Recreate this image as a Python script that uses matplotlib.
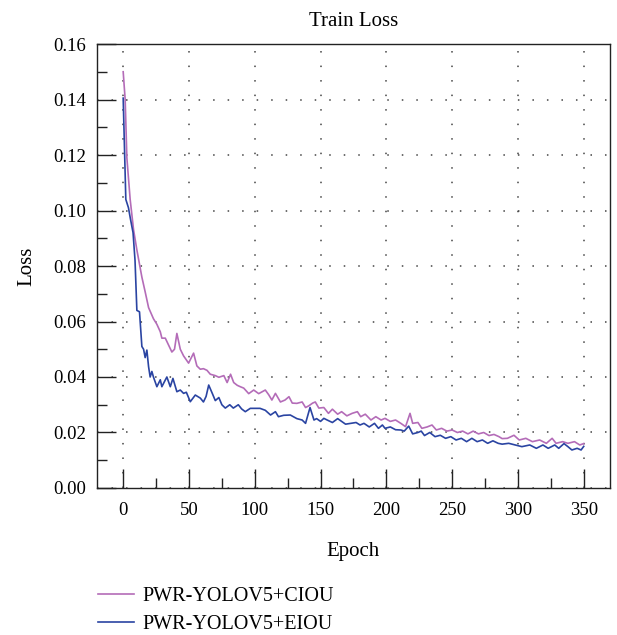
import matplotlib
matplotlib.use("Agg")
import matplotlib.pyplot as plt
from matplotlib.ticker import MultipleLocator, FormatStrFormatter

# values
ciou_epoch = [0, 1.5, 2.8, 5.3, 7.9, 10.4, 14.2, 16.7, 19.3, 23, 25.6, 28.2, 29.4, 32, 34.5,
              37, 39, 40.8, 43.4, 45.9, 49.7, 53.5, 56, 58.6, 61, 63.7, 66.2, 70, 72.7, 76.5,
              79, 81.6, 84, 86.7, 89, 91.6, 95.4, 99.2, 103, 108, 110.6, 113, 115.7, 119.5,
              123, 126, 128.5, 132, 136, 138.6, 141, 144, 146, 148.7, 152.5, 156, 159, 163,
              166, 170, 174, 178, 180.5, 184, 188.3, 192, 196, 199, 203, 207, 211, 214.6,
              218, 220, 224, 227, 231, 234.7, 238, 242, 246, 250, 254, 258, 262, 266, 270,
              274, 278, 281.8, 285.6, 288, 292, 297, 301, 306, 311, 316.5, 321.6, 326, 329,
              334, 338, 343, 347, 350]
ciou_loss = [0.150, 0.140, 0.119, 0.104, 0.093, 0.0858, 0.076, 0.0707, 0.065, 0.061, 0.059,
             0.0563, 0.054, 0.054, 0.0515, 0.049, 0.050, 0.0557, 0.050, 0.0476, 0.045, 0.0486,
             0.044, 0.0428, 0.043, 0.0424, 0.041, 0.0405, 0.0399, 0.0405, 0.038, 0.041, 0.038,
             0.037, 0.0365, 0.036, 0.034, 0.0353, 0.034, 0.0353, 0.0336, 0.0317, 0.0341, 0.031,
             0.0317, 0.0329, 0.0306, 0.0305, 0.031, 0.029, 0.0296, 0.0306, 0.031, 0.0288,
             0.029, 0.0269, 0.0284, 0.0266, 0.0275, 0.026, 0.0269, 0.0275, 0.0257, 0.0266,
             0.0245, 0.0257, 0.0245, 0.0251, 0.024, 0.0245, 0.0233, 0.0221, 0.0269, 0.0233,
             0.0236, 0.0215, 0.022, 0.0227, 0.0209, 0.0215, 0.0205, 0.0209, 0.020, 0.0205,
             0.0195, 0.0205, 0.0195, 0.020, 0.0189, 0.0193, 0.0185, 0.0178, 0.0179, 0.019,
             0.0173, 0.0179, 0.0167, 0.0173, 0.0161, 0.0179, 0.0161, 0.0167, 0.0161, 0.0167,
             0.0155, 0.0160]

eiou_epoch = [0, 2, 4, 5.5, 7.5, 9, 10.4, 12.4, 14.2, 15.5, 16.7, 18, 19.3, 20.5, 21.8, 23,
              25.6, 28.2, 29.4, 31, 33.2, 35.8, 37.8, 40.8, 43.4, 45.9, 48, 51, 54.8, 58.6,
              61, 63, 65, 67.8, 70, 72.7, 75, 77.6, 81, 83.7, 87.5, 90, 92.8, 96.6, 100, 104,
              108, 112, 115.7, 118, 122, 127, 132, 136, 138.6, 142, 145, 147, 150, 152.5,
              155, 159, 163, 166, 169, 173, 177, 180, 183, 187, 191, 194, 197, 199, 203, 207,
              211, 213.6, 217, 220, 224, 226.5, 229, 233, 237, 241, 245, 249, 253, 257, 261,
              265, 269, 273, 277, 281, 285, 288, 293, 298, 303, 309, 314, 319, 323, 328, 331,
              335, 338, 341, 345, 348, 350]
eiou_loss = [0.1405, 0.104, 0.101, 0.097, 0.092, 0.082, 0.064, 0.0635, 0.051, 0.050, 0.047,
             0.0497, 0.0437, 0.040, 0.042, 0.040, 0.0365, 0.039, 0.0365, 0.038, 0.040, 0.0365,
             0.0395, 0.0347, 0.0353, 0.0341, 0.0345, 0.0311, 0.0335, 0.0324, 0.031, 0.033,
             0.0371, 0.034, 0.0315, 0.0326, 0.030, 0.0288, 0.030, 0.0288, 0.030, 0.0285,
             0.0275, 0.0287, 0.0287, 0.0287, 0.028, 0.0263, 0.0275, 0.0257, 0.0262, 0.0263,
             0.025, 0.0245, 0.0233, 0.0290, 0.0245, 0.025, 0.024, 0.0251, 0.0245, 0.0236,
             0.025, 0.024, 0.023, 0.0233, 0.0236, 0.0227, 0.0233, 0.022, 0.0233, 0.0215,
             0.0227, 0.0215, 0.022, 0.021, 0.0209, 0.0205, 0.0223, 0.0195, 0.020, 0.0205,
             0.0189, 0.020, 0.0185, 0.019, 0.0179, 0.0185, 0.0173, 0.0179, 0.0167, 0.0179,
             0.0167, 0.0173, 0.0161, 0.0170, 0.0161, 0.0158, 0.0161, 0.0155, 0.0149, 0.0155,
             0.0143, 0.0155, 0.0143, 0.0155, 0.0143, 0.0160, 0.0149, 0.0137, 0.0143, 0.0137,
             0.0150]

labels = ["PWR-YOLOV5+CIOU", "PWR-YOLOV5+EIOU"]
colors = ["#b46cb8", "#2a44a2"]

plt.rcParams['font.family'] = ['Liberation Serif', 'DejaVu Serif']
plt.rcParams['font.size'] = 13.5

fig = plt.figure(figsize=(6.17, 6.35), dpi=100)
ax = fig.add_axes([0.157, 0.2315, 0.8317, 0.6992])

ax.plot(ciou_epoch, ciou_loss, color=colors[0], linewidth=1.2, label=labels[0])
ax.plot(eiou_epoch, eiou_loss, color=colors[1], linewidth=1.2, label=labels[1])

ax.set_xlim(-20, 370)
ax.set_ylim(0, 0.16)
ax.xaxis.set_major_locator(MultipleLocator(50))
ax.xaxis.set_minor_locator(MultipleLocator(25))
ax.yaxis.set_major_locator(MultipleLocator(0.02))
ax.yaxis.set_minor_locator(MultipleLocator(0.01))
ax.yaxis.set_major_formatter(FormatStrFormatter('%.2f'))

ax.tick_params(which='major', direction='in', length=13.5, width=1.0, color='#222222',
               labelsize=13.5, pad=8)
ax.tick_params(which='minor', direction='in', length=7, width=1.0, color='#222222')
ax.tick_params(axis='x', pad=10)
for s in ax.spines.values():
    s.set_linewidth(1.0)
    s.set_color('#222222')

ax.grid(True, which='major', linestyle=(0, (1, 8.5)), linewidth=1.1, color='#444444')

ax.set_title("Train Loss", fontsize=15, pad=13)
ax.set_xlabel("Epoch", fontsize=15, labelpad=17)
ax.set_ylabel("Loss", fontsize=15, labelpad=12)

handles, _ = ax.get_legend_handles_labels()
fig.legend(handles, labels, loc='upper left', bbox_to_anchor=(0.145, 0.088), frameon=False,
           handlelength=1.8, handletextpad=0.45, labelspacing=0.42, fontsize=14.5,
           borderaxespad=0)

fig.savefig("out.png", dpi=100)
